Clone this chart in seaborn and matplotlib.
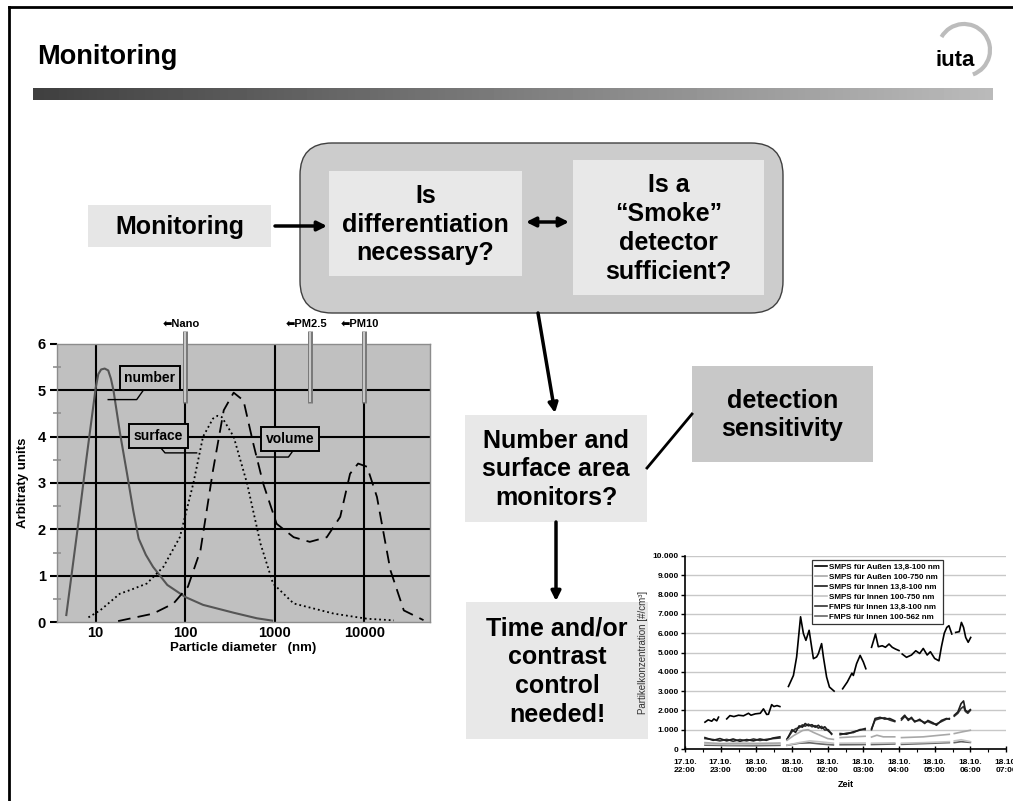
import numpy as np
import pandas as pd
import matplotlib
matplotlib.use("Agg")
import matplotlib.pyplot as plt
import seaborn as sns
from matplotlib.patches import Rectangle, FancyBboxPatch, Arc
from matplotlib.lines import Line2D

nan = np.nan

# left chart: size distributions, particle diameter in nm
number_d = [4.7, 6.3, 7.9, 10, 10.7, 11.5, 12.6, 13.8, 14.8, 15.8, 18.6, 22.4, 26.3, 30.2, 36.3, 43.7, 63, 100, 158, 347, 631, 933]
number_y = [0.15, 2.03, 3.54, 5.05, 5.35, 5.45, 5.47, 5.43, 5.25, 5.0, 4.1, 3.2, 2.4, 1.8, 1.45, 1.19, 0.8, 0.54, 0.37, 0.2, 0.08, 0.03]
surface_d = [8.3, 11.2, 18.6, 25.1, 37.2, 57, 87, 123, 158, 204, 229, 257, 347, 490, 692, 955, 1622, 4571, 10715, 21380]
surface_y = [0.1, 0.25, 0.61, 0.7, 0.83, 1.19, 1.83, 2.99, 4.0, 4.39, 4.45, 4.42, 4.0, 2.99, 1.69, 0.83, 0.4, 0.18, 0.07, 0.035]
volume_d = [17.8, 43.7, 74, 107, 148, 204, 269, 347, 447, 575, 741, 1047, 1622, 2455, 3802, 5370, 6918, 8511, 10715, 13804, 19498, 27542, 45709]
volume_y = [0.02, 0.18, 0.4, 0.76, 1.55, 3.27, 4.57, 4.95, 4.78, 3.85, 2.99, 2.12, 1.83, 1.73, 1.83, 2.27, 3.2, 3.42, 3.35, 2.7, 1.12, 0.25, 0.04]
marker_names = ["Nano", "PM2.5", "PM10"]
marker_d = [100, 2500, 10000]
size_ticks = [10, 100, 1000, 10000]

# right chart: hours after 17.10. 22:00, nan marks a gap in the record
aussen_fine_h = [0.56, 0.65, 0.75, 0.81, 0.89, 0.94, nan,
                 1.17, 1.26, 1.37, 1.50, 1.64, 1.78, 1.85, 1.97, 2.11, 2.20, 2.29, 2.34, 2.43, 2.49, 2.58, 2.66, nan,
                 2.90, 3.04, 3.13, 3.24, 3.32, 3.39, 3.48, 3.55, 3.60, 3.69, 3.74, 3.83, 3.88, 3.97, 4.05, 4.18, nan,
                 4.42, 4.55, 4.68, 4.72, 4.81, 4.91, 5.00, 5.07, nan,
                 5.23, 5.30, 5.34, 5.42, 5.53, 5.62, 5.72, 5.81, 5.90, 6.00, nan,
                 6.09, 6.21, 6.35, 6.47, 6.58, 6.68, 6.79, 6.88, 7.00, 7.12, 7.19, 7.27, 7.34, 7.40, 7.48, nan,
                 7.59, 7.69, 7.75, 7.81, 7.87, 7.94, 8.01]
aussen_fine_v = [1390, 1510, 1440, 1560, 1460, 1650, nan,
                 1560, 1730, 1680, 1750, 1720, 1850, 1750, 1820, 1850, 2080, 1790, 1800, 2300, 2200, 2250, 2200, nan,
                 3240, 3810, 4770, 6850, 5980, 5630, 6150, 5290, 4680, 4770, 4940, 5460, 4770, 3730, 3210, 3000, nan,
                 3120, 3470, 3930, 3810, 4420, 4850, 4510, 4160, nan,
                 5270, 5700, 5960, 5300, 5350, 5270, 5440, 5270, 5180, 5100, nan,
                 4920, 4750, 4870, 5090, 4950, 5210, 4870, 5040, 4690, 4570, 5300, 6000, 6300, 6390, 5960, nan,
                 6040, 6080, 6560, 6300, 5780, 5530, 5780]

aussen_coarse_h = [0.56, 1.0, 1.5, 2.0, 2.66, nan, 2.86, 3.05, 3.3, 3.45, 3.6, 3.8, 4.0, 4.16, nan,
                   4.35, 4.72, 5.05, nan, 5.23, 5.38, 5.56, 5.88, nan, 6.07, 6.68, 7.14, 7.41, nan, 7.55, 7.78, 8.0]
aussen_coarse_v = [330, 280, 300, 290, 310, nan, 450, 700, 960, 1000, 860, 700, 540, 500, nan,
                   590, 630, 660, nan, 620, 713, 630, 630, nan, 590, 630, 713, 760, nan, 800, 890, 970]

innen_fine_h = [0.56, 0.79, 0.98, 1.17, 1.35, 1.54, 1.73, 1.92, 2.10, 2.28, 2.47, 2.66, nan,
                2.86, 3.00, 3.10, 3.20, 3.29, 3.37, 3.46, 3.56, 3.65, 3.74, 3.83, 3.92, 4.02, 4.11, nan,
                4.35, 4.53, 4.72, 4.91, 5.05, nan,
                5.23, 5.33, 5.47, 5.60, 5.74, 5.88, nan,
                6.07, 6.16, 6.26, 6.35, 6.44, 6.58, 6.72, 6.81, 6.96, 7.05, 7.19, 7.33, 7.41, nan,
                7.55, 7.65, 7.74, 7.81, 7.86, 7.93, 8.00]
innen_fine_v = [590, 450, 540, 420, 520, 400, 490, 420, 520, 450, 570, 630, nan,
                490, 1000, 860, 1200, 1130, 1320, 1200, 1260, 1130, 1230, 1060, 1150, 930, 800, nan,
                800, 770, 890, 980, 1060, nan,
                1000, 1580, 1640, 1550, 1580, 1460, nan,
                1580, 1750, 1480, 1640, 1400, 1540, 1320, 1480, 1350, 1230, 1480, 1580, 1550, nan,
                1750, 1920, 2350, 2490, 2010, 1920, 2040]

innen_coarse_h = [0.56, 1.2, 1.9, 2.66, nan, 2.86, 3.2, 3.5, 3.8, 4.16, nan, 4.35, 5.05, nan,
                  5.23, 5.88, nan, 6.07, 6.7, 7.41, nan, 7.55, 7.74, 8.0]
innen_coarse_v = [260, 230, 240, 250, nan, 200, 330, 420, 370, 300, nan, 300, 310, nan,
                  300, 320, nan, 300, 330, 380, nan, 420, 480, 380]

fmps_fine_h = innen_fine_h
fmps_fine_v = [540, 490, 420, 500, 400, 490, 420, 520, 440, 500, 540, 570, nan,
               520, 900, 1050, 1100, 1250, 1180, 1290, 1150, 1210, 1080, 1170, 980, 1000, 760, nan,
               740, 820, 850, 1010, 1000, nan,
               1050, 1500, 1580, 1620, 1500, 1420, nan,
               1500, 1680, 1560, 1580, 1450, 1480, 1380, 1420, 1300, 1300, 1420, 1550, 1580, nan,
               1700, 1850, 2100, 2200, 1950, 1850, 2000]

fmps_coarse_h = innen_coarse_h
fmps_coarse_v = [200, 180, 170, 190, nan, 190, 300, 320, 260, 210, nan, 220, 230, nan,
                 230, 260, nan, 240, 280, 330, nan, 330, 380, 340]

series_names = ["SMPS für Außen 13,8-100 nm", "SMPS für Außen 100-750 nm",
                "SMPS für Innen 13,8-100 nm", "SMPS für Innen 100-750 nm",
                "FMPS für Innen 13,8-100 nm", "FMPS für Innen 100-562 nm"]
series_colors = ["#000000", "#a8a8a8", "#1e1e1e", "#c4c4c4", "#333333", "#666666"]
time_labels = ["17.10.\n22:00", "17.10.\n23:00", "18.10.\n00:00", "18.10.\n01:00", "18.10.\n02:00",
               "18.10.\n03:00", "18.10.\n04:00", "18.10.\n05:00", "18.10.\n06:00", "18.10.\n07:00"]
conc_ticks = [0, 1000, 2000, 3000, 4000, 5000, 6000, 7000, 8000, 9000, 10000]

plt.rcParams["font.family"] = ["Liberation Sans", "DejaVu Sans"]

fig = plt.figure(figsize=(10.13, 8.01), dpi=100)

# ---- slide layer in pixel coordinates
bg = fig.add_axes([0, 0, 1, 1])
bg.set_xlim(0, 1013)
bg.set_ylim(801, 0)
bg.axis("off")

bg.plot([8.5, 8.5], [7, 801], color="black", lw=2)
bg.plot([8.5, 1013], [7, 7], color="black", lw=2)
bg.text(37, 57, "Monitoring", fontsize=19.5, fontweight="bold", va="center", ha="left")
grad = np.linspace(0.25, 0.73, 256)[None, :]
bg.imshow(grad, cmap="gray", vmin=0, vmax=1, extent=(33, 993, 100, 88), aspect="auto")
bg.add_patch(Arc((964, 50), 52, 52, theta1=-150, theta2=70, color="#bcbcbc", lw=3))
bg.text(955, 60, "iuta", fontsize=16, fontweight="bold", ha="center", va="center")
bg.set_xlim(0, 1013)
bg.set_ylim(801, 0)

bg.add_patch(FancyBboxPatch((300, 143), 483, 170, boxstyle="round,pad=0,rounding_size=32",
                            facecolor="#cccccc", edgecolor="#404040", lw=1))
boxes = [
    ((88, 205, 183, 42), "#e6e6e6", "Monitoring"),
    ((329, 171, 193, 105), "#e8e8e8", "Is\ndifferentiation\nnecessary?"),
    ((573, 160, 191, 135), "#e8e8e8", "Is a\n“Smoke”\ndetector\nsufficient?"),
    ((465, 415, 182, 107), "#e8e8e8", "Number and\nsurface area\nmonitors?"),
    ((692, 366, 181, 96), "#c8c8c8", "detection\nsensitivity"),
    ((466, 602, 182, 137), "#e8e8e8", "Time and/or\ncontrast\ncontrol\nneeded!"),
]
for (x, y, w, h), fc, txt in boxes:
    bg.add_patch(Rectangle((x, y), w, h, facecolor=fc, edgecolor="none"))
    bg.text(x + w / 2, y + h / 2 + 1, txt, fontsize=18, fontweight="bold", ha="center",
            va="center", linespacing=1.25)

arrow = dict(arrowstyle="-|>", lw=2.5, color="black", mutation_scale=14, shrinkA=0, shrinkB=0)
bg.annotate("", xy=(327, 226), xytext=(275, 226), arrowprops=arrow)
bg.annotate("", xy=(569, 222), xytext=(526, 222),
            arrowprops=dict(arrow, arrowstyle="<|-|>"))
bg.annotate("", xy=(555, 413), xytext=(538, 313), arrowprops=arrow)
bg.annotate("", xy=(556, 601), xytext=(556, 522), arrowprops=arrow)
bg.plot([647, 692], [468, 414], color="black", lw=2)

# ---- left chart
ax1 = fig.add_axes([57 / 1013, 179 / 801, 373 / 1013, 278 / 801])
ax1.set_facecolor("#c0c0c0")
ax1.set_xscale("log")
sns.lineplot(x=number_d, y=number_y, ax=ax1, color="#555555", lw=1.5, zorder=4)
sns.lineplot(x=surface_d, y=surface_y, ax=ax1, color="black", lw=1.3, linestyle=":", zorder=4)
sns.lineplot(x=volume_d, y=volume_y, ax=ax1, color="black", lw=1.3, zorder=4)
ax1.lines[-1].set_dashes([7, 4])
ax1.set_xlim(3.7, 54000)
ax1.set_ylim(0, 6)
for v in range(1, 6):
    ax1.axhline(v, color="black", lw=1.5, zorder=2)
for d in size_ticks:
    ax1.axvline(d, color="black", lw=1.5, zorder=2)
ax1.set_yticks(range(0, 7))
ax1.set_yticks(np.arange(0.5, 6, 1.0), minor=True)
ax1.set_xticks(size_ticks)
ax1.set_xticklabels([str(d) for d in size_ticks])
ax1.xaxis.set_minor_locator(matplotlib.ticker.NullLocator())
ax1.tick_params(axis="y", which="major", length=5, width=1.5, color="black", pad=3, labelsize=10.5)
ax1.tick_params(axis="y", which="minor", length=6, width=1.2, color="#909090", direction="inout")
ax1.tick_params(axis="x", which="major", length=0, pad=3, labelsize=10.5)
for lab in ax1.get_xticklabels() + ax1.get_yticklabels():
    lab.set_fontweight("bold")
for s in ax1.spines.values():
    s.set_color("#8c8c8c")
    s.set_linewidth(1)
ax1.set_xlabel("Particle diameter   (nm)", fontsize=9.5, fontweight="bold", labelpad=1)
ax1.set_ylabel("Arbitraty units", fontsize=9.5, fontweight="bold", labelpad=6)

# curve labels with leader lines
labels = [("number", 40.4, 5.26, [34, 28.7, 13.8], [5.0, 4.8, 4.8]),
          ("surface", 49.7, 4.01, [52.2, 59.4, 134], [3.78, 3.65, 3.65]),
          ("volume", 1480, 3.95, [1614, 1419, 631], [3.71, 3.56, 3.56])]
for txt, lx, ly, kx, ky in labels:
    ax1.plot(kx, ky, color="black", lw=1, zorder=5)
    ax1.text(lx, ly, txt, fontsize=10, fontweight="bold", ha="center", va="center", zorder=6,
             bbox=dict(boxstyle="square,pad=0.35", facecolor="#c0c0c0", edgecolor="black", lw=1.4))

for name, d in zip(marker_names, marker_d):
    ax1.plot([d, d], [4.72, 6.27], color="#7a7a7a", lw=3.6, clip_on=False, zorder=5,
             solid_capstyle="butt")
    ax1.plot([d, d], [4.74, 6.25], color="#d8d8d8", lw=1.2, clip_on=False, zorder=6,
             solid_capstyle="butt")
    ax1.annotate("⬅" + name, xy=(d, 6.43), xytext=(-3, 0), textcoords="offset points",
                 fontsize=8, fontweight="bold", ha="center", va="center", annotation_clip=False)

# ---- right chart
ax2 = fig.add_axes([685 / 1013, 52 / 801, 321 / 1013, 193 / 801])
series = [(aussen_fine_h, aussen_fine_v), (aussen_coarse_h, aussen_coarse_v),
          (innen_fine_h, innen_fine_v), (innen_coarse_h, innen_coarse_v),
          (fmps_fine_h, fmps_fine_v), (fmps_coarse_h, fmps_coarse_v)]
frames = []
for name, (hh, vv) in zip(series_names, series):
    f = pd.DataFrame({"h": hh, "v": vv})
    f["seg"] = f["h"].isna().cumsum()
    f["series"] = name
    frames.append(f.dropna())
df = pd.concat(frames, ignore_index=True)
for name, color in reversed(list(zip(series_names, series_colors))):
    sub = df[df["series"] == name]
    sns.lineplot(data=sub, x="h", y="v", units="seg", estimator=None, sort=False,
                 color=color, lw=1.2, ax=ax2, legend=False)

ax2.set_xlim(0, 9)
ax2.set_ylim(0, 10000)
ax2.set_yticks(conc_ticks)
ax2.set_yticklabels(["0"] + [f"{t // 1000}.000" for t in conc_ticks[1:]])
ax2.set_xticks(range(10))
ax2.set_xticklabels(time_labels)
ax2.set_xticks(np.arange(0.5, 9, 1.0), minor=True)
ax2.grid(axis="y", color="#c8c8c8", lw=1)
ax2.set_axisbelow(True)
for side in ["top", "right"]:
    ax2.spines[side].set_visible(False)
for side in ["left", "bottom"]:
    ax2.spines[side].set_linewidth(1.2)
ax2.tick_params(axis="x", which="major", direction="inout", length=5, width=1, pad=5, labelsize=6)
ax2.tick_params(axis="x", which="minor", direction="out", length=2.5, width=0.8)
ax2.tick_params(axis="y", which="major", direction="out", length=3, width=1, pad=1.5, labelsize=6)
for lab in ax2.get_xticklabels() + ax2.get_yticklabels():
    lab.set_fontweight("bold")
ax2.set_xlabel("Zeit", fontsize=6.5, fontweight="bold", labelpad=4)
ax2.set_ylabel("Partikelkonzentration [#/cm³]", fontsize=7, color="#333333", labelpad=3)

handles = [Line2D([], [], color=c, lw=1.2) for c in series_colors]
leg = ax2.legend(handles, series_names, loc="upper left", bbox_to_anchor=(0.383, 1.0),
                 frameon=True, fancybox=False, framealpha=1, edgecolor="#333333",
                 prop={"weight": "bold", "size": 5.8}, handlelength=1.5, handletextpad=0.3,
                 labelspacing=0.3, borderpad=0.35)
leg.get_frame().set_linewidth(0.9)

fig.savefig("out.png", dpi=100)
